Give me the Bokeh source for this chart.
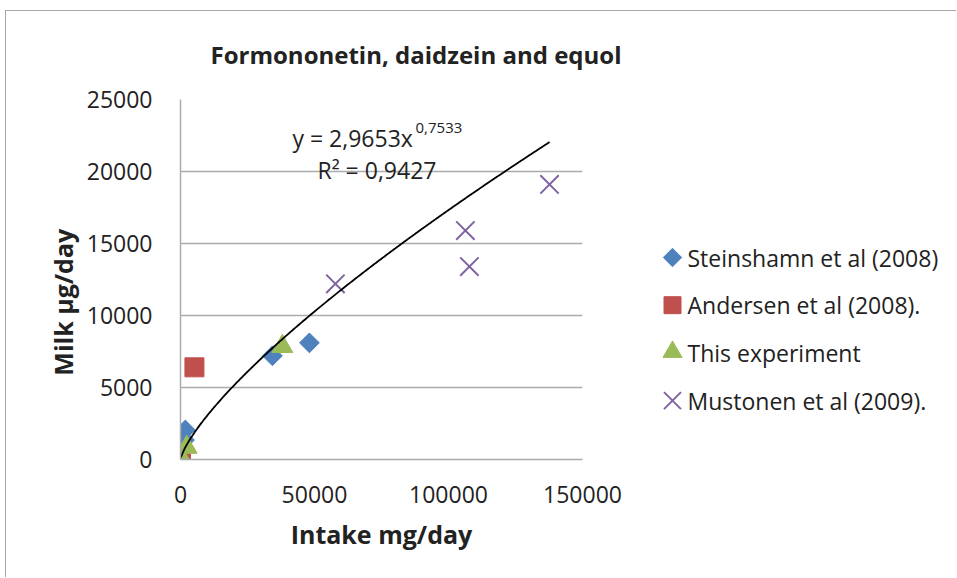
import numpy as np
from bokeh.plotting import figure
from bokeh.layouts import row
from bokeh.models import (Range1d, Label, FixedTicker, NumeralTickFormatter,
                          ColumnDataSource)
from bokeh.core.properties import value
from bokeh.embed import file_html
from bokeh.resources import INLINE

# ---- data ----
steinshamn_x = [1800, 1500, 34300, 48100]
steinshamn_y = [2050, 1350, 7200, 8100]

andersen_x = [170, 5200]
andersen_y = [150, 6400]

this_x = [300, 2300, 38000]
this_y = [120, 850, 7850]

mustonen_x = [57800, 106300, 107800, 137700]
mustonen_y = [12200, 15900, 13400, 19100]

series_names = ["Steinshamn et al (2008)", "Andersen et al (2008).",
                "This experiment", "Mustonen et al (2009)."]

fit_a = 2.9653
fit_b = 0.7533
fit_eq = "y = 2,9653x"
fit_exp = "0,7533"
fit_r2 = "R\u00b2 = 0,9427"

x_ticks = [0, 50000, 100000, 150000]
y_ticks = [0, 5000, 10000, 15000, 20000, 25000]

FONT = "Open Sans"
GRID = "#ABABAB"
TXT = "#222222"
C_BLUE, C_RED, C_GREEN, C_PURPLE = "#4F81BD", "#C0504D", "#9BBB59", "#8064A2"

MB_TOP, MB_BOTTOM, FRAME_H = 88, 118, 360

# ---------------- main plot ----------------
p = figure(frame_width=402, frame_height=FRAME_H, output_backend="svg",
           toolbar_location=None,
           x_range=Range1d(0, 150000), y_range=Range1d(0, 25000),
           min_border_left=174, min_border_right=60, min_border_top=MB_TOP,
           min_border_bottom=MB_BOTTOM,
           title="Formononetin, daidzein and equol")
p.outline_line_color = None

p.title.text_font = FONT
p.title.text_font_size = "24px"
p.title.text_font_style = "bold"
p.title.text_color = TXT
p.title.align = "left"
p.title.vertical_align = "top"
p.title.offset = 30
p.title.standoff = 53

for ax in (p.xaxis[0], p.yaxis[0]):
    ax.major_tick_line_color = None
    ax.minor_tick_line_color = None
    ax.axis_line_color = GRID
    ax.axis_line_width = 1.5
    ax.major_label_text_font = FONT
    ax.major_label_text_font_size = "23px"
    ax.major_label_text_color = TXT
    ax.axis_label_text_font = FONT
    ax.axis_label_text_font_size = "25px"
    ax.axis_label_text_font_style = "bold"
    ax.axis_label_text_color = TXT
    ax.formatter = NumeralTickFormatter(format="0")

p.xaxis.ticker = FixedTicker(ticks=x_ticks)
p.yaxis.ticker = FixedTicker(ticks=y_ticks)
p.xaxis.axis_label = "Intake mg/day"
# trailing no-break spaces push the visible label slightly below centre, as in the reference
p.yaxis.axis_label = "Milk \u00b5g/day" + "\u00a0" * 7
p.xaxis.major_label_standoff = 20
p.yaxis.major_label_standoff = 22
p.xaxis.axis_label_standoff = 11
p.yaxis.axis_label_standoff = 4

p.xgrid.grid_line_color = None
p.ygrid.ticker = FixedTicker(ticks=y_ticks)
p.ygrid.grid_line_color = GRID
p.ygrid.grid_line_width = 1.5

p.scatter(steinshamn_x, steinshamn_y, marker="square", angle=np.pi / 4,
          size=14, fill_color=C_BLUE, line_color=C_BLUE)
p.scatter(andersen_x, andersen_y, marker="square", size=19,
          fill_color=C_RED, line_color=C_RED)
p.scatter(this_x, this_y, marker="triangle", size=21,
          fill_color=C_GREEN, line_color=C_GREEN)
p.scatter(mustonen_x, mustonen_y, marker="x", size=26,
          line_color=C_PURPLE, line_width=2)

# power trendline over the observed intake range
all_x = steinshamn_x + andersen_x + this_x + mustonen_x
xs = np.linspace(min(all_x), max(all_x), 400)
p.line(xs, fit_a * xs ** fit_b, line_color="black", line_width=1.8)

p.add_layout(Label(x=41790, y=22360, text=fit_eq, text_font=FONT,
                   text_font_size="23px", text_color=TXT,
                   text_baseline="alphabetic"))
p.add_layout(Label(x=87700, y=23000, text=fit_exp, text_font=FONT,
                   text_font_size="15px", text_color=TXT,
                   text_baseline="alphabetic"))
p.add_layout(Label(x=51100, y=20070, text=fit_r2, text_font=FONT,
                   text_font_size="23px", text_color=TXT,
                   text_baseline="alphabetic"))

# ---------------- legend panel (a second, axis-less figure in pixel units) ----------------
LW = 314
q = figure(frame_width=LW, frame_height=FRAME_H, output_backend="svg",
           toolbar_location=None,
           x_range=Range1d(0, LW), y_range=Range1d(0, FRAME_H),
           min_border_left=0, min_border_right=0, min_border_top=MB_TOP,
           min_border_bottom=MB_BOTTOM, outline_line_color=None)
q.axis.visible = False
q.grid.visible = False

row_y = [202 - 47.7 * i for i in range(len(series_names))]
mx, tx = 30, 45
q.scatter([mx], [row_y[0]], marker="square", angle=np.pi / 4, size=13,
          fill_color=C_BLUE, line_color=C_BLUE)
q.scatter([mx], [row_y[1]], marker="square", size=17,
          fill_color=C_RED, line_color=C_RED)
q.scatter([mx], [row_y[2] + 1], marker="triangle", size=19,
          fill_color=C_GREEN, line_color=C_GREEN)
q.scatter([mx], [row_y[3]], marker="x", size=24,
          line_color=C_PURPLE, line_width=2)
src = ColumnDataSource(dict(x=[tx] * len(series_names), y=row_y, t=series_names))
q.text(x="x", y="y", text="t", source=src, text_font=value(FONT),
       text_font_size="23px", text_color=TXT, text_baseline="middle")

layout = row(p, q)
layout.styles = {"border-top": "1px solid #A6A6A6", "border-left": "1px solid #A6A6A6",
                 "margin-left": "5px", "margin-top": "10px"}

open("out.html", "w").write(file_html(layout, INLINE))
